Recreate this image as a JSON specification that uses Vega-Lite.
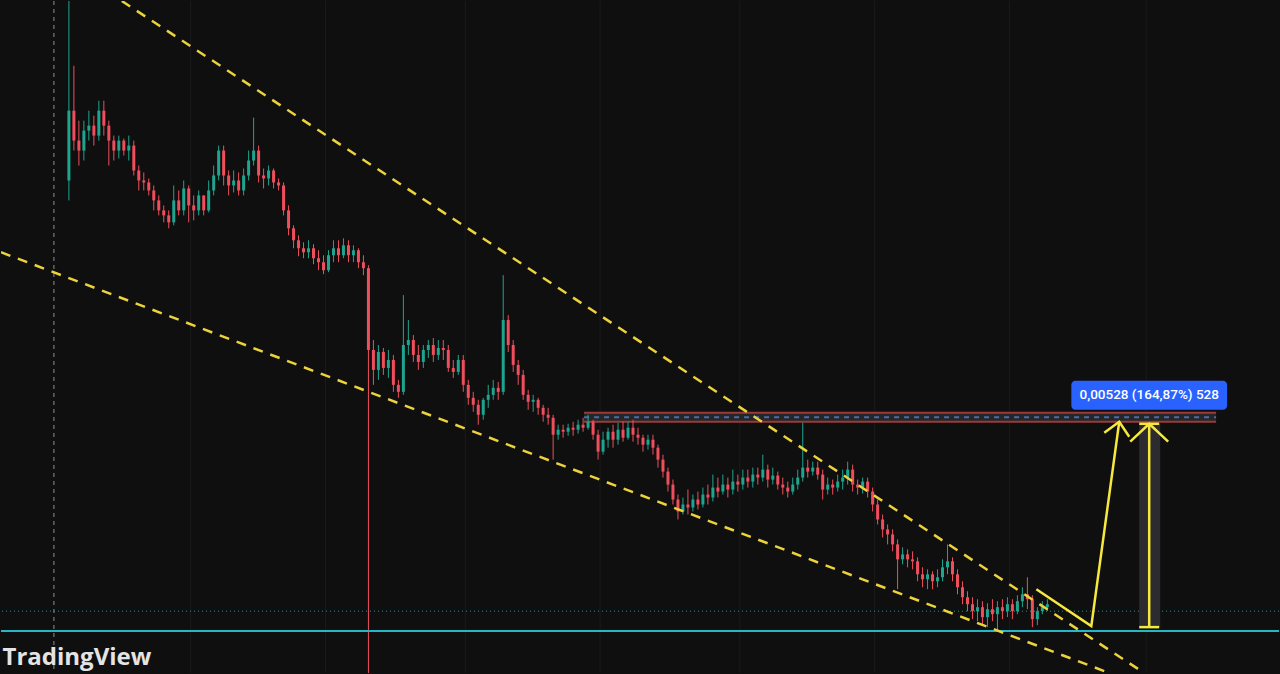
{
"$schema":"https://vega.github.io/schema/vega-lite/v6.json",
"width":1280,"height":674,
"autosize":{"type":"fit","contains":"padding"},
"padding":0,
"background":"#0f0f0f",
"config":{"view":{"stroke":null},"scale":{"continuousPadding":0}},
"datasets":{
"candles":[
{"t":0,"o":0.01435,"h":0.018975,"l":0.01385,"c":0.0161},
{"t":1,"o":0.0161,"h":0.017225,"l":0.0151,"c":0.01535},
{"t":2,"o":0.01535,"h":0.01585,"l":0.014725,"c":0.0151},
{"t":3,"o":0.0151,"h":0.01585,"l":0.01485,"c":0.0156},
{"t":4,"o":0.0156,"h":0.0161,"l":0.01535,"c":0.015725},
{"t":5,"o":0.015725,"h":0.015975,"l":0.015225,"c":0.015475},
{"t":6,"o":0.015475,"h":0.01635,"l":0.01535,"c":0.0161},
{"t":7,"o":0.0161,"h":0.01635,"l":0.015475,"c":0.015725},
{"t":8,"o":0.015725,"h":0.01585,"l":0.014725,"c":0.01535},
{"t":9,"o":0.01535,"h":0.015475,"l":0.01485,"c":0.0151},
{"t":10,"o":0.0151,"h":0.015475,"l":0.0149,"c":0.01535},
{"t":11,"o":0.01535,"h":0.0154,"l":0.014975,"c":0.0151},
{"t":12,"o":0.0151,"h":0.015475,"l":0.01485,"c":0.015225},
{"t":13,"o":0.015225,"h":0.01535,"l":0.014475,"c":0.0146},
{"t":14,"o":0.0146,"h":0.014725,"l":0.0141,"c":0.01435},
{"t":15,"o":0.01435,"h":0.01455,"l":0.0141,"c":0.0143},
{"t":16,"o":0.0143,"h":0.0144,"l":0.013975,"c":0.0141},
{"t":17,"o":0.0141,"h":0.014225,"l":0.0136,"c":0.01385},
{"t":18,"o":0.01385,"h":0.013975,"l":0.013475,"c":0.0136},
{"t":19,"o":0.0136,"h":0.013725,"l":0.0133,"c":0.013475},
{"t":20,"o":0.013475,"h":0.0136,"l":0.01315,"c":0.0133},
{"t":21,"o":0.0133,"h":0.014225,"l":0.013225,"c":0.01385},
{"t":22,"o":0.01385,"h":0.0141,"l":0.013475,"c":0.0136},
{"t":23,"o":0.0136,"h":0.01435,"l":0.013475,"c":0.01415},
{"t":24,"o":0.01415,"h":0.014225,"l":0.0133,"c":0.013725},
{"t":25,"o":0.013725,"h":0.013975,"l":0.01335,"c":0.0136},
{"t":26,"o":0.0136,"h":0.0141,"l":0.013475,"c":0.013975},
{"t":27,"o":0.013975,"h":0.013975,"l":0.013475,"c":0.0136},
{"t":28,"o":0.0136,"h":0.01435,"l":0.01355,"c":0.0141},
{"t":29,"o":0.0141,"h":0.014725,"l":0.013975,"c":0.014475},
{"t":30,"o":0.014475,"h":0.015225,"l":0.01435,"c":0.0151},
{"t":31,"o":0.0151,"h":0.015225,"l":0.014225,"c":0.014475},
{"t":32,"o":0.014475,"h":0.0146,"l":0.013975,"c":0.014225},
{"t":33,"o":0.014225,"h":0.0146,"l":0.01405,"c":0.01435},
{"t":34,"o":0.01435,"h":0.01455,"l":0.013975,"c":0.0141},
{"t":35,"o":0.0141,"h":0.01465,"l":0.013975,"c":0.014475},
{"t":36,"o":0.014475,"h":0.0151,"l":0.01435,"c":0.01485},
{"t":37,"o":0.01485,"h":0.015925,"l":0.014725,"c":0.0151},
{"t":38,"o":0.0151,"h":0.015225,"l":0.0143,"c":0.014475},
{"t":39,"o":0.014475,"h":0.01465,"l":0.01415,"c":0.0144},
{"t":40,"o":0.0144,"h":0.014725,"l":0.014225,"c":0.0146},
{"t":41,"o":0.0146,"h":0.01465,"l":0.01415,"c":0.0143},
{"t":42,"o":0.0143,"h":0.0144,"l":0.0141,"c":0.014225},
{"t":43,"o":0.014225,"h":0.0143,"l":0.013475,"c":0.0136},
{"t":44,"o":0.0136,"h":0.013725,"l":0.012975,"c":0.01315},
{"t":45,"o":0.01315,"h":0.013225,"l":0.01265,"c":0.01285},
{"t":46,"o":0.01285,"h":0.012975,"l":0.01245,"c":0.01265},
{"t":47,"o":0.01265,"h":0.0128,"l":0.0124,"c":0.01255},
{"t":48,"o":0.01255,"h":0.01285,"l":0.0124,"c":0.01265},
{"t":49,"o":0.01265,"h":0.01275,"l":0.01225,"c":0.0124},
{"t":50,"o":0.0124,"h":0.0126,"l":0.0121,"c":0.0123},
{"t":51,"o":0.0123,"h":0.012475,"l":0.012,"c":0.0121},
{"t":52,"o":0.0121,"h":0.0126,"l":0.01205,"c":0.012475},
{"t":53,"o":0.012475,"h":0.01285,"l":0.0123,"c":0.01265},
{"t":54,"o":0.01265,"h":0.01285,"l":0.0123,"c":0.012475},
{"t":55,"o":0.012475,"h":0.0129,"l":0.0124,"c":0.012725},
{"t":56,"o":0.012725,"h":0.01285,"l":0.0123,"c":0.012475},
{"t":57,"o":0.012475,"h":0.012725,"l":0.0123,"c":0.0126},
{"t":58,"o":0.0126,"h":0.01265,"l":0.01215,"c":0.0123},
{"t":59,"o":0.0123,"h":0.012475,"l":0.011975,"c":0.01215},
{"t":60,"o":0.01215,"h":0.012225,"l":0.00135,"c":0.0101},
{"t":61,"o":0.0101,"h":0.01035,"l":0.009225,"c":0.0096},
{"t":62,"o":0.0096,"h":0.010225,"l":0.00935,"c":0.01005},
{"t":63,"o":0.01005,"h":0.01015,"l":0.009475,"c":0.00965},
{"t":64,"o":0.00965,"h":0.0101,"l":0.0094,"c":0.00985},
{"t":65,"o":0.00985,"h":0.009975,"l":0.00905,"c":0.009225},
{"t":66,"o":0.009225,"h":0.00935,"l":0.0089,"c":0.00905},
{"t":67,"o":0.00905,"h":0.011475,"l":0.008975,"c":0.010225},
{"t":68,"o":0.010225,"h":0.01085,"l":0.009975,"c":0.01035},
{"t":69,"o":0.01035,"h":0.010475,"l":0.0098,"c":0.009975},
{"t":70,"o":0.009975,"h":0.010225,"l":0.0096,"c":0.0098},
{"t":71,"o":0.0098,"h":0.010225,"l":0.00965,"c":0.0101},
{"t":72,"o":0.0101,"h":0.01035,"l":0.0099,"c":0.010225},
{"t":73,"o":0.010225,"h":0.0104,"l":0.0098,"c":0.009975},
{"t":74,"o":0.009975,"h":0.01035,"l":0.00985,"c":0.01015},
{"t":75,"o":0.01015,"h":0.01035,"l":0.00985,"c":0.0101},
{"t":76,"o":0.0101,"h":0.010225,"l":0.00955,"c":0.00965},
{"t":77,"o":0.00965,"h":0.00985,"l":0.0094,"c":0.00955},
{"t":78,"o":0.00955,"h":0.009975,"l":0.009475,"c":0.00985},
{"t":79,"o":0.00985,"h":0.009975,"l":0.00905,"c":0.009225},
{"t":80,"o":0.009225,"h":0.00935,"l":0.008725,"c":0.0089},
{"t":81,"o":0.0089,"h":0.00905,"l":0.00855,"c":0.008725},
{"t":82,"o":0.008725,"h":0.00885,"l":0.008225,"c":0.008475},
{"t":83,"o":0.008475,"h":0.0089,"l":0.00835,"c":0.00885},
{"t":84,"o":0.00885,"h":0.009225,"l":0.00865,"c":0.008975},
{"t":85,"o":0.008975,"h":0.00935,"l":0.00885,"c":0.00915},
{"t":86,"o":0.00915,"h":0.0093,"l":0.00885,"c":0.00905},
{"t":87,"o":0.00905,"h":0.011975,"l":0.008975,"c":0.01085},
{"t":88,"o":0.01085,"h":0.010975,"l":0.01005,"c":0.010225},
{"t":89,"o":0.010225,"h":0.01035,"l":0.00955,"c":0.009725},
{"t":90,"o":0.009725,"h":0.00985,"l":0.009225,"c":0.009475},
{"t":91,"o":0.009475,"h":0.0096,"l":0.00885,"c":0.008975},
{"t":92,"o":0.008975,"h":0.0091,"l":0.0086,"c":0.0088},
{"t":93,"o":0.0088,"h":0.008975,"l":0.00855,"c":0.00885},
{"t":94,"o":0.00885,"h":0.0089,"l":0.008475,"c":0.00865},
{"t":95,"o":0.00865,"h":0.008725,"l":0.0083,"c":0.008475},
{"t":96,"o":0.008475,"h":0.00865,"l":0.008225,"c":0.0084},
{"t":97,"o":0.0084,"h":0.008475,"l":0.00735,"c":0.007975},
{"t":98,"o":0.007975,"h":0.008225,"l":0.00785,"c":0.0081},
{"t":99,"o":0.0081,"h":0.008225,"l":0.0079,"c":0.00805},
{"t":100,"o":0.00805,"h":0.00825,"l":0.00795,"c":0.00815},
{"t":101,"o":0.00815,"h":0.0083,"l":0.00795,"c":0.0081},
{"t":102,"o":0.0081,"h":0.00835,"l":0.008,"c":0.008225},
{"t":103,"o":0.008225,"h":0.0084,"l":0.00805,"c":0.00815},
{"t":104,"o":0.00815,"h":0.008475,"l":0.0081,"c":0.0083},
{"t":105,"o":0.0083,"h":0.00835,"l":0.00785,"c":0.007975},
{"t":106,"o":0.007975,"h":0.0081,"l":0.00735,"c":0.00755},
{"t":107,"o":0.00755,"h":0.00805,"l":0.007475,"c":0.00785},
{"t":108,"o":0.00785,"h":0.00815,"l":0.00765,"c":0.00805},
{"t":109,"o":0.00805,"h":0.008225,"l":0.00765,"c":0.00785},
{"t":110,"o":0.00785,"h":0.008275,"l":0.007725,"c":0.0081},
{"t":111,"o":0.0081,"h":0.0083,"l":0.0078,"c":0.0079},
{"t":112,"o":0.0079,"h":0.0083,"l":0.00785,"c":0.00815},
{"t":113,"o":0.00815,"h":0.00835,"l":0.0078,"c":0.007975},
{"t":114,"o":0.007975,"h":0.00815,"l":0.007725,"c":0.0079},
{"t":115,"o":0.0079,"h":0.007975,"l":0.00755,"c":0.007725},
{"t":116,"o":0.007725,"h":0.007975,"l":0.0076,"c":0.00785},
{"t":117,"o":0.00785,"h":0.007975,"l":0.007475,"c":0.00765},
{"t":118,"o":0.00765,"h":0.007725,"l":0.00715,"c":0.00735},
{"t":119,"o":0.00735,"h":0.007475,"l":0.0069,"c":0.00705},
{"t":120,"o":0.00705,"h":0.00715,"l":0.00655,"c":0.006725},
{"t":121,"o":0.006725,"h":0.00685,"l":0.006225,"c":0.00635},
{"t":122,"o":0.00635,"h":0.006475,"l":0.00585,"c":0.00605},
{"t":123,"o":0.00605,"h":0.0064,"l":0.005975,"c":0.006225},
{"t":124,"o":0.006225,"h":0.0066,"l":0.005975,"c":0.00615},
{"t":125,"o":0.00615,"h":0.006475,"l":0.00605,"c":0.00635},
{"t":126,"o":0.00635,"h":0.00655,"l":0.0061,"c":0.006225},
{"t":127,"o":0.006225,"h":0.00665,"l":0.00615,"c":0.006475},
{"t":128,"o":0.006475,"h":0.006725,"l":0.006225,"c":0.0064},
{"t":129,"o":0.0064,"h":0.006975,"l":0.0063,"c":0.00665},
{"t":130,"o":0.00665,"h":0.0069,"l":0.0064,"c":0.00655},
{"t":131,"o":0.00655,"h":0.006975,"l":0.006475,"c":0.006725},
{"t":132,"o":0.006725,"h":0.0069,"l":0.0064,"c":0.0066},
{"t":133,"o":0.0066,"h":0.0071,"l":0.006475,"c":0.0068},
{"t":134,"o":0.0068,"h":0.006975,"l":0.00655,"c":0.006725},
{"t":135,"o":0.006725,"h":0.0071,"l":0.0066,"c":0.0069},
{"t":136,"o":0.0069,"h":0.0071,"l":0.00665,"c":0.0068},
{"t":137,"o":0.0068,"h":0.00715,"l":0.00665,"c":0.006975},
{"t":138,"o":0.006975,"h":0.00715,"l":0.006725,"c":0.0069},
{"t":139,"o":0.0069,"h":0.007475,"l":0.0068,"c":0.0071},
{"t":140,"o":0.0071,"h":0.007225,"l":0.00665,"c":0.00685},
{"t":141,"o":0.00685,"h":0.00715,"l":0.006725,"c":0.00695},
{"t":142,"o":0.00695,"h":0.00705,"l":0.0066,"c":0.006725},
{"t":143,"o":0.006725,"h":0.0069,"l":0.006475,"c":0.00665},
{"t":144,"o":0.00665,"h":0.0068,"l":0.0064,"c":0.00655},
{"t":145,"o":0.00655,"h":0.0069,"l":0.006475,"c":0.006725},
{"t":146,"o":0.006725,"h":0.0071,"l":0.0066,"c":0.0069},
{"t":147,"o":0.0069,"h":0.008275,"l":0.0068,"c":0.00715},
{"t":148,"o":0.00715,"h":0.00735,"l":0.0069,"c":0.00705},
{"t":149,"o":0.00705,"h":0.0073,"l":0.00695,"c":0.00715},
{"t":150,"o":0.00715,"h":0.0073,"l":0.00685,"c":0.006975},
{"t":151,"o":0.006975,"h":0.0071,"l":0.00635,"c":0.0066},
{"t":152,"o":0.0066,"h":0.0069,"l":0.006475,"c":0.006725},
{"t":153,"o":0.006725,"h":0.00685,"l":0.006475,"c":0.00665},
{"t":154,"o":0.00665,"h":0.006975,"l":0.00655,"c":0.0068},
{"t":155,"o":0.0068,"h":0.0071,"l":0.0066,"c":0.0069},
{"t":156,"o":0.0069,"h":0.0073,"l":0.006725,"c":0.0071},
{"t":157,"o":0.0071,"h":0.007225,"l":0.00655,"c":0.006725},
{"t":158,"o":0.006725,"h":0.00685,"l":0.006475,"c":0.00665},
{"t":159,"o":0.00665,"h":0.0069,"l":0.0065,"c":0.0068},
{"t":160,"o":0.0068,"h":0.0069,"l":0.0064,"c":0.00655},
{"t":161,"o":0.00655,"h":0.00665,"l":0.00605,"c":0.006225},
{"t":162,"o":0.006225,"h":0.00635,"l":0.005725,"c":0.00585},
{"t":163,"o":0.00585,"h":0.005975,"l":0.0054,"c":0.0056},
{"t":164,"o":0.0056,"h":0.005725,"l":0.005225,"c":0.005475},
{"t":165,"o":0.005475,"h":0.0056,"l":0.00505,"c":0.005225},
{"t":166,"o":0.005225,"h":0.00535,"l":0.0041,"c":0.00485},
{"t":167,"o":0.00485,"h":0.00515,"l":0.004725,"c":0.004975},
{"t":168,"o":0.004975,"h":0.0051,"l":0.00465,"c":0.00485},
{"t":169,"o":0.00485,"h":0.00505,"l":0.0046,"c":0.0048},
{"t":170,"o":0.0048,"h":0.0049,"l":0.0043,"c":0.004475},
{"t":171,"o":0.004475,"h":0.00465,"l":0.00415,"c":0.00435},
{"t":172,"o":0.00435,"h":0.0046,"l":0.0041,"c":0.004475},
{"t":173,"o":0.004475,"h":0.00455,"l":0.0041,"c":0.0043},
{"t":174,"o":0.0043,"h":0.0046,"l":0.00415,"c":0.0044},
{"t":175,"o":0.0044,"h":0.00485,"l":0.0043,"c":0.00465},
{"t":176,"o":0.00465,"h":0.005225,"l":0.004475,"c":0.0048},
{"t":177,"o":0.0048,"h":0.0049,"l":0.0043,"c":0.004475},
{"t":178,"o":0.004475,"h":0.0046,"l":0.003975,"c":0.00415},
{"t":179,"o":0.00415,"h":0.0043,"l":0.003725,"c":0.0039},
{"t":180,"o":0.0039,"h":0.00405,"l":0.00355,"c":0.003725},
{"t":181,"o":0.003725,"h":0.0039,"l":0.00335,"c":0.00355},
{"t":182,"o":0.00355,"h":0.00385,"l":0.0033,"c":0.00365},
{"t":183,"o":0.00365,"h":0.0038,"l":0.003225,"c":0.0034},
{"t":184,"o":0.0034,"h":0.00375,"l":0.00315,"c":0.0036},
{"t":185,"o":0.0036,"h":0.00385,"l":0.0033,"c":0.003475},
{"t":186,"o":0.003475,"h":0.0038,"l":0.00305,"c":0.00365},
{"t":187,"o":0.00365,"h":0.00385,"l":0.00335,"c":0.00355},
{"t":188,"o":0.00355,"h":0.0039,"l":0.0034,"c":0.003725},
{"t":189,"o":0.003725,"h":0.00385,"l":0.00335,"c":0.00355},
{"t":190,"o":0.00355,"h":0.00395,"l":0.003475,"c":0.0038},
{"t":191,"o":0.0038,"h":0.00415,"l":0.00365,"c":0.003975},
{"t":192,"o":0.003975,"h":0.0044,"l":0.0036,"c":0.00385},
{"t":193,"o":0.00385,"h":0.00395,"l":0.00315,"c":0.00335},
{"t":194,"o":0.00335,"h":0.00365,"l":0.0032,"c":0.00355},
{"t":195,"o":0.00355,"h":0.0038,"l":0.003475,"c":0.00365},
{"t":196,"o":0.00365,"h":0.00385,"l":0.00355,"c":0.003725}
],
"grid":[{"t":24.4},{"t":51.4},{"t":79.4},{"t":106.4},{"t":134.4},{"t":161.4},{"t":188.4},{"t":215.8}],
"vline":[{"t":-3}],
"trend":[
{"id":"upper","k":0,"t":10.6,"p":0.01885},{"id":"upper","k":1,"t":215.4,"p":0.002},
{"id":"lower","k":0,"t":-13.6,"p":0.01255},{"id":"lower","k":1,"t":208.4,"p":0.002}],
"solid":[
{"id":"path","k":0,"t":193.8,"p":0.0041},{"id":"path","k":1,"t":204.8,"p":0.003175},{"id":"path","k":2,"t":210.4,"p":0.0083},
{"id":"head1","k":0,"t":207.4,"p":0.008025},{"id":"head1","k":1,"t":210.4,"p":0.0083},{"id":"head1","k":2,"t":212.4,"p":0.007925},
{"id":"head2","k":0,"t":212.6,"p":0.0078},{"id":"head2","k":1,"t":216.4,"p":0.00825},{"id":"head2","k":2,"t":220.2,"p":0.0078},
{"id":"shaft","k":0,"t":216.4,"p":0.00825},{"id":"shaft","k":1,"t":216.4,"p":0.00315},
{"id":"captop","k":0,"t":214.4,"p":0.00825},{"id":"captop","k":1,"t":218.4,"p":0.00825},
{"id":"capbot","k":0,"t":214.4,"p":0.00315},{"id":"capbot","k":1,"t":218.4,"p":0.00315}],
"measure":[{"t1":214.4,"t2":218.6,"p1":0.00315,"p2":0.00825}],
"band":[{"t1":103.2,"t2":229.8,"top":0.008525,"bot":0.0083,"mid":0.0084125}],
"label":[{"t1":200.8,"t2":232,"p1":0.009325,"p2":0.0086,"tm":216.4,"pm":0.00896,"text":"0,00528 (164,87%) 528"}],
"cyan":[{"p":0.00305}],
"dotted":[{"p":0.00355}],
"wm":[{"t":-13.3,"p":0.00219,"text":"TradingView"}]
},
"layer":[
{"data":{"name":"grid"},"mark":{"type":"rule","color":"#1b1b1b","strokeWidth":1},
 "encoding":{"x":{"field":"t","type":"quantitative","scale":{"domain":[-13.6,242.4],"nice":false,"zero":false,"padding":0},"axis":null}}},
{"data":{"name":"vline"},"mark":{"type":"rule","color":"#8c8c8c","strokeWidth":1,"strokeDash":[4,4]},
 "encoding":{"x":{"field":"t","type":"quantitative","scale":{"domain":[-13.6,242.4],"nice":false,"zero":false,"padding":0},"axis":null}}},
{"data":{"name":"dotted"},"mark":{"type":"rule","color":"#23968f","strokeWidth":1,"strokeDash":[1,3]},
 "encoding":{"y":{"field":"p","type":"quantitative","scale":{"domain":[0.002,0.01885],"nice":false,"zero":false,"padding":0},"axis":null}}},
{"data":{"name":"measure"},"mark":{"type":"rect","color":"#2c2c30","clip":true},
 "encoding":{"x":{"field":"t1","type":"quantitative","scale":{"domain":[-13.6,242.4],"nice":false,"zero":false,"padding":0},"axis":null},"x2":{"field":"t2"},
  "y":{"field":"p1","type":"quantitative","scale":{"domain":[0.002,0.01885],"nice":false,"zero":false,"padding":0},"axis":null},"y2":{"field":"p2"}}},
{"data":{"name":"band"},"mark":{"type":"rect","color":"#262626","clip":true},
 "encoding":{"x":{"field":"t1","type":"quantitative","scale":{"domain":[-13.6,242.4],"nice":false,"zero":false,"padding":0},"axis":null},"x2":{"field":"t2"},
  "y":{"field":"top","type":"quantitative","scale":{"domain":[0.002,0.01885],"nice":false,"zero":false,"padding":0},"axis":null},"y2":{"field":"bot"}}},
{"data":{"name":"band"},"mark":{"type":"rule","color":"#9c3a3a","strokeWidth":2,"clip":true},
 "encoding":{"x":{"field":"t1","type":"quantitative","scale":{"domain":[-13.6,242.4],"nice":false,"zero":false,"padding":0},"axis":null},"x2":{"field":"t2"},
  "y":{"field":"top","type":"quantitative","scale":{"domain":[0.002,0.01885],"nice":false,"zero":false,"padding":0},"axis":null}}},
{"data":{"name":"band"},"mark":{"type":"rule","color":"#9c3a3a","strokeWidth":2,"clip":true},
 "encoding":{"x":{"field":"t1","type":"quantitative","scale":{"domain":[-13.6,242.4],"nice":false,"zero":false,"padding":0},"axis":null},"x2":{"field":"t2"},
  "y":{"field":"bot","type":"quantitative","scale":{"domain":[0.002,0.01885],"nice":false,"zero":false,"padding":0},"axis":null}}},
{"data":{"name":"band"},"mark":{"type":"rule","color":"#4a6ea8","strokeWidth":2,"strokeDash":[5,5],"clip":true},
 "encoding":{"x":{"field":"t1","type":"quantitative","scale":{"domain":[-13.6,242.4],"nice":false,"zero":false,"padding":0},"axis":null},"x2":{"field":"t2"},
  "y":{"field":"mid","type":"quantitative","scale":{"domain":[0.002,0.01885],"nice":false,"zero":false,"padding":0},"axis":null}}},
{"data":{"name":"candles"},
 "encoding":{"x":{"field":"t","type":"quantitative","scale":{"domain":[-13.6,242.4],"nice":false,"zero":false,"padding":0},"axis":null},
  "color":{"condition":{"test":"datum.c >= datum.o","value":"#1fa58f"},"value":"#ef4f5c"}},
 "layer":[
  {"mark":{"type":"rule","strokeWidth":1,"clip":true},
   "encoding":{"y":{"field":"h","type":"quantitative","scale":{"domain":[0.002,0.01885],"nice":false,"zero":false,"padding":0},"axis":null},"y2":{"field":"l"}}},
  {"mark":{"type":"bar","size":3,"clip":true},
   "encoding":{"y":{"field":"o","type":"quantitative","scale":{"domain":[0.002,0.01885],"nice":false,"zero":false,"padding":0},"axis":null},"y2":{"field":"c"}}}
 ]},
{"data":{"name":"cyan"},"mark":{"type":"rule","color":"#27b6c6","strokeWidth":2},
 "encoding":{"y":{"field":"p","type":"quantitative","scale":{"domain":[0.002,0.01885],"nice":false,"zero":false,"padding":0},"axis":null}}},
{"data":{"name":"trend"},"mark":{"type":"line","color":"#ecd33c","strokeWidth":2.5,"strokeDash":[10,8],"clip":true},
 "encoding":{"x":{"field":"t","type":"quantitative","scale":{"domain":[-13.6,242.4],"nice":false,"zero":false,"padding":0},"axis":null},
  "y":{"field":"p","type":"quantitative","scale":{"domain":[0.002,0.01885],"nice":false,"zero":false,"padding":0},"axis":null},
  "detail":{"field":"id"},"order":{"field":"k"}}},
{"data":{"name":"solid"},"mark":{"type":"line","color":"#f6e83e","strokeWidth":2.5,"clip":true},
 "encoding":{"x":{"field":"t","type":"quantitative","scale":{"domain":[-13.6,242.4],"nice":false,"zero":false,"padding":0},"axis":null},
  "y":{"field":"p","type":"quantitative","scale":{"domain":[0.002,0.01885],"nice":false,"zero":false,"padding":0},"axis":null},
  "detail":{"field":"id"},"order":{"field":"k"}}},
{"data":{"name":"label"},"mark":{"type":"rect","color":"#2962ff","cornerRadius":4},
 "encoding":{"x":{"field":"t1","type":"quantitative","scale":{"domain":[-13.6,242.4],"nice":false,"zero":false,"padding":0},"axis":null},"x2":{"field":"t2"},
  "y":{"field":"p1","type":"quantitative","scale":{"domain":[0.002,0.01885],"nice":false,"zero":false,"padding":0},"axis":null},"y2":{"field":"p2"}}},
{"data":{"name":"label"},"mark":{"type":"text","color":"#ffffff","fontSize":13.5,"fontWeight":500,"font":"Roboto","align":"center","baseline":"middle"},
 "encoding":{"x":{"field":"tm","type":"quantitative","scale":{"domain":[-13.6,242.4],"nice":false,"zero":false,"padding":0},"axis":null},
  "y":{"field":"pm","type":"quantitative","scale":{"domain":[0.002,0.01885],"nice":false,"zero":false,"padding":0},"axis":null},
  "text":{"field":"text"}}},
{"data":{"name":"wm"},"mark":{"type":"text","color":"#e4e4e4","fontSize":24,"fontWeight":"bold","font":"Open Sans","align":"left","baseline":"alphabetic"},
 "encoding":{"x":{"field":"t","type":"quantitative","scale":{"domain":[-13.6,242.4],"nice":false,"zero":false,"padding":0},"axis":null},
  "y":{"field":"p","type":"quantitative","scale":{"domain":[0.002,0.01885],"nice":false,"zero":false,"padding":0},"axis":null},
  "text":{"field":"text"}}}
]
}
